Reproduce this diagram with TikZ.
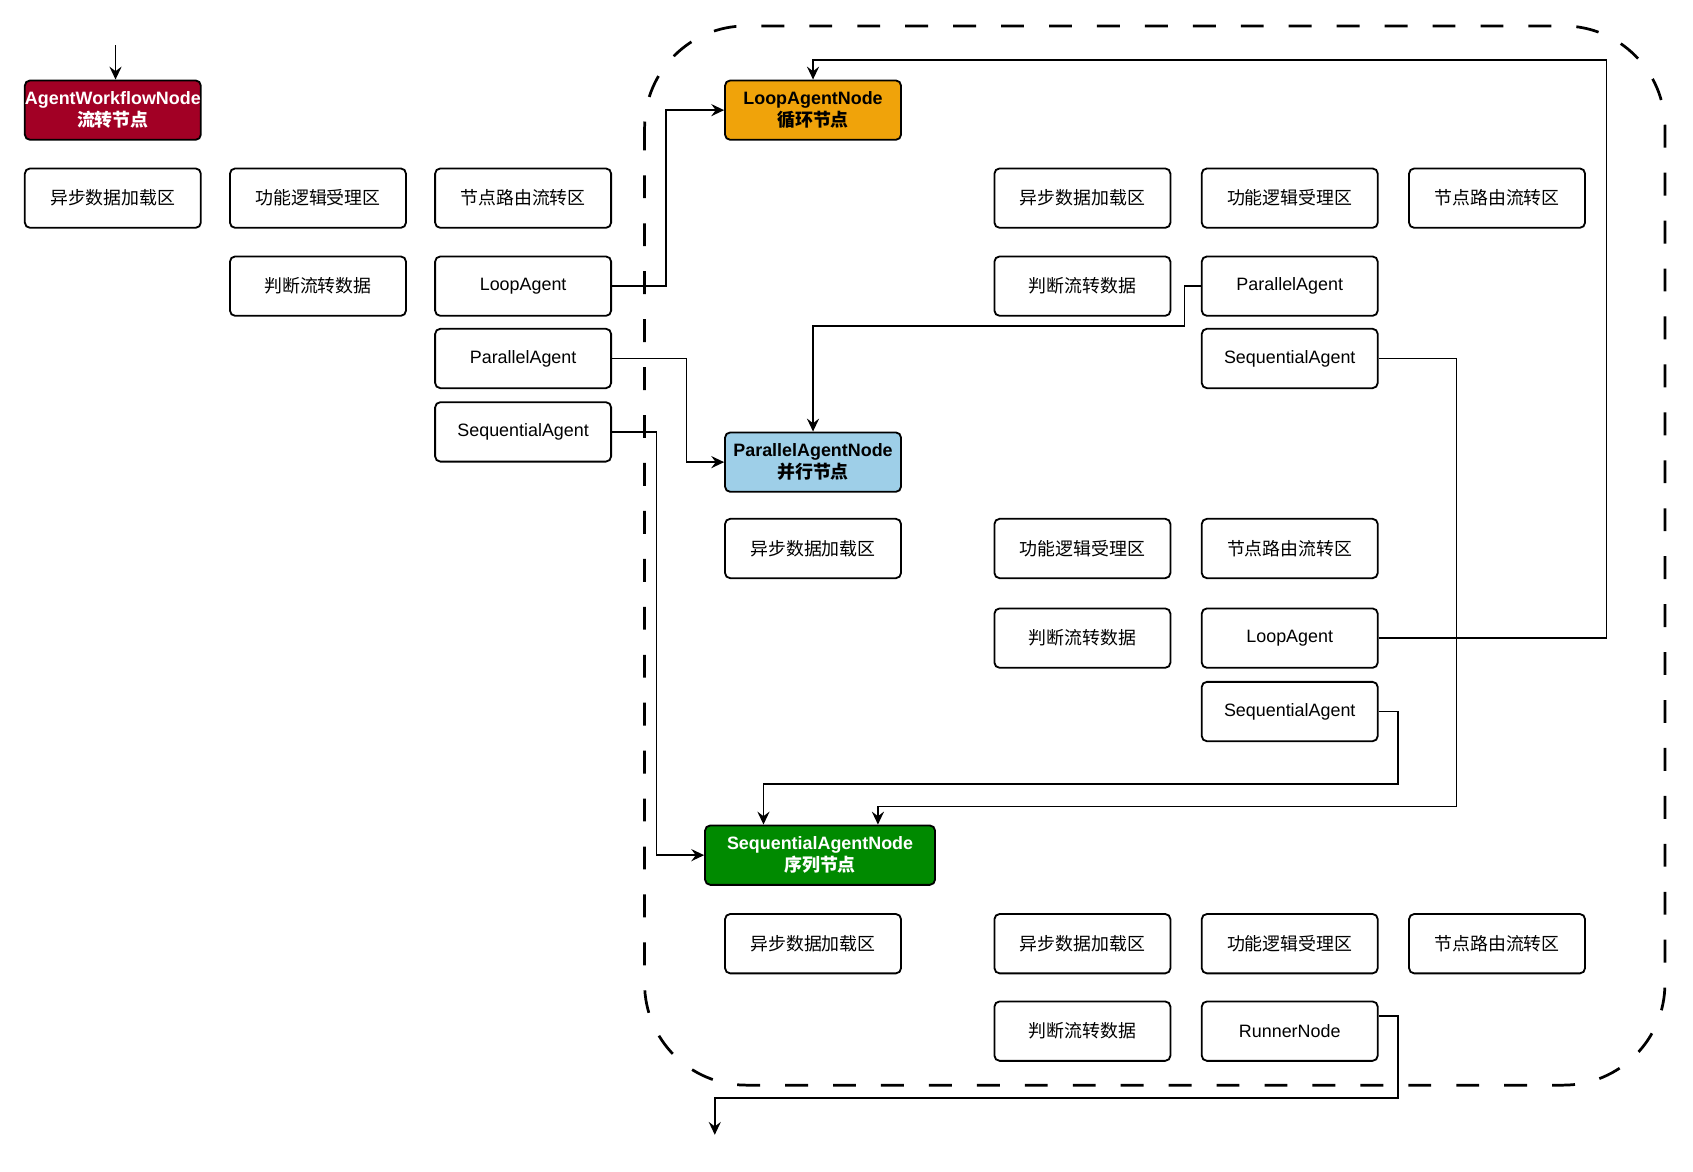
\documentclass[tikz,border=0pt]{standalone}
\usepackage{fontspec}
\setmainfont{Liberation Sans}
\newfontfamily\cjk{Noto Sans CJK SC}
\usetikzlibrary{arrows.meta}
\definecolor{wfred}{HTML}{A20025}
\definecolor{looporange}{HTML}{F0A30A}
\definecolor{parblue}{HTML}{9ECFE8}
\definecolor{seqgreen}{HTML}{008A00}
\begin{document}
\begin{tikzpicture}[>={Stealth[length=8.5pt,width=8pt,inset=3pt]},
    font=\fontsize{11.8}{14.2}\selectfont,
    box/.style={draw, line width=1.2pt, rounded corners=0.12cm, minimum width=4.075cm, minimum height=1.375cm, align=center},
    agentnode/.style={box, font=\fontsize{11.8}{14.2}\selectfont\bfseries},
    link/.style={->, line width=1pt}]
\useasboundingbox (0,0) rectangle (39.2,-27.125);
% dashed frame
\draw[line width=1.8pt, dash pattern=on 0.53cm off 0.58cm, rounded corners=2.35cm] (14.925,-0.6) rectangle (38.55,-25.125);
% workflow node
\node[agentnode, fill=wfred, text=white, inner xsep=0pt] (wf) at (2.6125,-2.55) {AgentWorkflowNode\\{\cjk 流转节点}};
\node[box] (a1) at (2.6125,-4.5875) {\cjk 异步数据加载区};
\node[box] (b1) at (7.3625,-4.5875) {\cjk 功能逻辑受理区};
\node[box] (c1) at (12.1125,-4.5875) {\cjk 节点路由流转区};
\node[box] (b2) at (7.3625,-6.625) {\cjk 判断流转数据};
\node[box] (lpL) at (12.1125,-6.625) {LoopAgent};
\node[box] (paL) at (12.1125,-8.3) {ParallelAgent};
\node[box] (saL) at (12.1125,-10.0) {SequentialAgent};
% loop node
\node[agentnode, fill=looporange] (loopN) at (18.825,-2.55) {LoopAgentNode\\{\cjk 循环节点}};
\node[box] (l1) at (25.0625,-4.5875) {\cjk 异步数据加载区};
\node[box] (l2) at (29.8625,-4.5875) {\cjk 功能逻辑受理区};
\node[box] (l3) at (34.6625,-4.5875) {\cjk 节点路由流转区};
\node[box] (l4) at (25.0625,-6.625) {\cjk 判断流转数据};
\node[box] (paR) at (29.8625,-6.625) {ParallelAgent};
\node[box] (saR) at (29.8625,-8.3) {SequentialAgent};
% parallel node
\node[agentnode, fill=parblue] (parN) at (18.825,-10.7) {ParallelAgentNode\\{\cjk 并行节点}};
\node[box] (p1) at (18.825,-12.7) {\cjk 异步数据加载区};
\node[box] (p2) at (25.0625,-12.7) {\cjk 功能逻辑受理区};
\node[box] (p3) at (29.8625,-12.7) {\cjk 节点路由流转区};
\node[box] (p4) at (25.0625,-14.775) {\cjk 判断流转数据};
\node[box] (lpR) at (29.8625,-14.775) {LoopAgent};
\node[box] (saR2) at (29.8625,-16.475) {SequentialAgent};
% sequential node
\node[agentnode, fill=seqgreen, text=white, minimum width=5.325cm] (seqN) at (18.9875,-19.8) {SequentialAgentNode\\{\cjk 序列节点}};
\node[box] (s1) at (18.825,-21.85) {\cjk 异步数据加载区};
\node[box] (s2) at (25.0625,-21.85) {\cjk 异步数据加载区};
\node[box] (s3) at (29.8625,-21.85) {\cjk 功能逻辑受理区};
\node[box] (s4) at (34.6625,-21.85) {\cjk 节点路由流转区};
\node[box] (s5) at (25.0625,-23.875) {\cjk 判断流转数据};
\node[box] (run) at (29.8625,-23.875) {RunnerNode};
% connectors
\coordinate (in) at (2.675,-1.05);
\coordinate (out) at (16.55,-26.275);
\draw[link] (in) -- (in |- wf.north);
\draw[link] (lpL.east) -- ++(1.25,0) |- (loopN.west);
\draw[link] (paL.east) -- ++(1.725,0) |- (parN.west);
\draw[link] (saL.east) -- ++(1.025,0) |- (seqN.west);
\draw[link] (paR.west) -- ++(-0.375,0) -- ++(0,-0.925) -| (parN.north);
\draw[link] (saR.east) -- ++(1.8,0) -- ++(0,-10.375) -| ([xshift=1.34cm]seqN.north);
\draw[link] (saR2.east) -- ++(0.45,0) -- ++(0,-1.675) -| ([xshift=-1.31cm]seqN.north);
\draw[link] (lpR.east) -- ++(5.275,0) |- ([yshift=0.45cm]loopN.north) -- (loopN.north);
\draw[link] ([yshift=0.35cm]run.east) -- ++(0.45,0) -- ++(0,-1.9) -| (out);
\end{tikzpicture}
\end{document}
